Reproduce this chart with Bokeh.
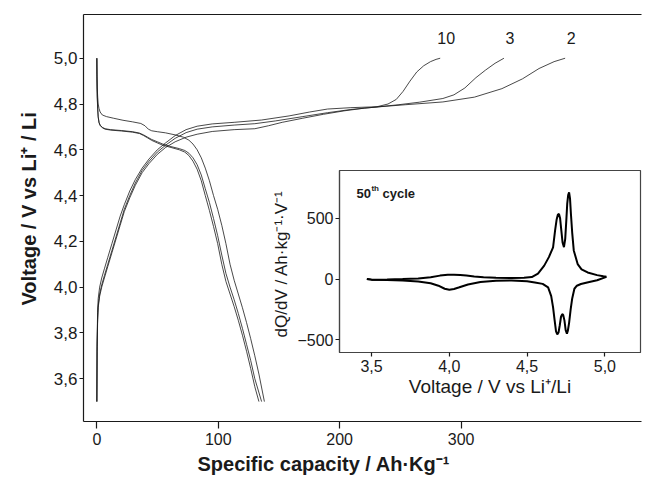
from bokeh.plotting import figure
from bokeh.models import Range1d, FixedTicker, Label, LinearAxis, CustomJSTickFormatter, Title
from bokeh.layouts import column
from bokeh.embed import file_html
from bokeh.resources import INLINE

FONT = "Liberation Sans"
INK = "#1a1a1a"

# ---- galvanostatic profiles: specific capacity (Ah/kg) vs voltage (V) ----
ch2_cap = [0, 0.2, 0.6, 1.1, 2.3, 4.0, 6.2, 9.0, 12.4, 15.8, 19.2, 22.6, 27.1, 31.7, 37.3, 43.0, 49.8, 56.6, 64.5, 73.5,
           82.6, 95.0, 113.1, 130.1, 141.4, 152.7, 169.7, 186.6, 203.6, 220.5, 230.7, 254.5, 285.0, 311.0, 333.6, 350.6,
           364.2, 376.6, 385.7]
ch2_v = [3.50, 3.72, 3.84, 3.91, 3.96, 4.00, 4.04, 4.09, 4.15, 4.21, 4.27, 4.33, 4.39, 4.445, 4.50, 4.54, 4.58, 4.61, 4.635, 4.655,
         4.668, 4.68, 4.688, 4.692, 4.705, 4.72, 4.738, 4.755, 4.77, 4.782, 4.787, 4.797, 4.809, 4.83, 4.867, 4.91,
         4.955, 4.985, 5.0]

ch3_cap = [0, 0.2, 0.6, 1.1, 2.3, 4.0, 6.2, 9.0, 12.4, 15.8, 19.2, 22.6, 27.1, 31.7, 37.3, 43.0, 49.8, 56.6, 64.5, 73.5,
           82.6, 95.0, 113.1, 130.1, 147.0, 169.7, 190.0, 209.2, 230.7, 248.8, 265.8, 285.0, 294.1, 303.1, 312.2, 320.1,
           328.0, 335.3]
ch3_v = [3.50, 3.74, 3.86, 3.92, 3.97, 4.01, 4.05, 4.10, 4.16, 4.22, 4.28, 4.34, 4.40, 4.455, 4.51, 4.55, 4.59, 4.62, 4.65, 4.675,
         4.69, 4.70, 4.708, 4.714, 4.726, 4.745, 4.762, 4.776, 4.787, 4.797, 4.808, 4.824, 4.84, 4.87, 4.915, 4.948,
         4.978, 5.0]

ch10_cap = [0, 0.2, 0.6, 1.1, 2.3, 4.0, 6.2, 9.0, 12.4, 15.8, 19.2, 22.6, 27.1, 31.7, 37.3, 43.0, 49.8, 56.6, 64.5, 73.5,
            82.6, 95.0, 113.1, 135.7, 158.3, 175.3, 190.0, 209.2, 230.7, 239.8, 246.6, 252.2, 257.9, 263.5, 269.2, 274.8,
            279.4, 282.8]
ch10_v = [3.50, 3.76, 3.89, 3.95, 4.00, 4.04, 4.08, 4.13, 4.19, 4.25, 4.31, 4.36, 4.42, 4.47, 4.52, 4.56, 4.60, 4.63, 4.662, 4.688,
          4.703, 4.713, 4.72, 4.73, 4.748, 4.765, 4.778, 4.784, 4.788, 4.80, 4.82, 4.855, 4.90, 4.94, 4.967, 4.985,
          4.995, 5.0]

dis2_cap = [0, 0.1, 0.3, 0.7, 1.1, 1.8, 2.7, 4.5, 7.9, 13.6, 21.5, 29.4, 36.2, 39.6, 42.4, 45.2, 49.8, 56.6, 64.5, 71.3,
            75.8, 79.2, 82.6, 86.0, 89.3, 92.7, 96.1, 99.5, 102.9, 106.3, 109.7, 113.1, 116.5, 119.9, 123.3, 126.7,
            130.1, 133.5, 138.0]
dis2_v = [5.0, 4.93, 4.87, 4.83, 4.80, 4.78, 4.765, 4.752, 4.745, 4.738, 4.729, 4.722, 4.715, 4.705, 4.69, 4.683, 4.679, 4.674, 4.665, 4.655,
          4.642, 4.625, 4.60, 4.565, 4.52, 4.465, 4.40, 4.34, 4.27, 4.19, 4.10, 4.03, 3.97, 3.91, 3.845, 3.775,
          3.70, 3.62, 3.50]

dis3_cap = [0, 0.1, 0.3, 0.7, 1.1, 1.8, 2.7, 4.5, 6.8, 11.3, 20.4, 29.4, 35.1, 38.5, 41.8, 45.2, 49.8, 54.3, 61.1, 67.9,
            72.4, 75.8, 79.2, 82.6, 86.0, 89.3, 92.7, 96.1, 99.5, 102.9, 106.3, 109.7, 113.1, 116.5, 119.9, 123.3,
            126.7, 130.1, 135.7]
dis3_v = [5.0, 4.92, 4.84, 4.78, 4.745, 4.72, 4.708, 4.698, 4.692, 4.688, 4.684, 4.679, 4.673, 4.665, 4.655, 4.645, 4.635, 4.625, 4.614, 4.605,
          4.597, 4.585, 4.565, 4.535, 4.49, 4.43, 4.37, 4.30, 4.225, 4.14, 4.06, 4.0, 3.945, 3.885, 3.82, 3.75,
          3.68, 3.60, 3.50]

dis10_cap = [0, 0.1, 0.3, 0.7, 1.1, 1.8, 2.7, 4.5, 6.8, 11.3, 20.4, 29.4, 35.1, 38.5, 41.8, 45.2, 49.8, 54.3, 61.1, 67.9,
             72.4, 75.8, 79.2, 82.6, 86.0, 89.3, 92.7, 96.1, 99.5, 102.9, 106.3, 109.7, 113.1, 116.5, 119.9, 123.3,
             126.7, 130.1, 133.5]
dis10_v = [5.0, 4.91, 4.83, 4.775, 4.742, 4.718, 4.706, 4.696, 4.69, 4.686, 4.682, 4.677, 4.671, 4.662, 4.652, 4.641, 4.630, 4.620, 4.610, 4.600,
           4.590, 4.575, 4.55, 4.515, 4.465, 4.40, 4.335, 4.265, 4.19, 4.10, 4.025, 3.97, 3.915, 3.855, 3.79, 3.72,
           3.645, 3.565, 3.50]

cycle_names = ["10", "3", "2"]
main_x_ticks = [0, 100, 200, 300]
main_y_ticks = [3.6, 3.8, 4.0, 4.2, 4.4, 4.6, 4.8, 5.0]

# ---- differential capacity, 50th cycle ----
dqdv_ch_v = [3.47, 3.50, 3.60, 3.70, 3.80, 3.88, 3.94, 3.99, 4.03, 4.07,
             4.11, 4.16, 4.22, 4.30, 4.40, 4.48, 4.53, 4.57, 4.61, 4.64,
             4.667, 4.68, 4.69, 4.698, 4.705, 4.712, 4.72, 4.728, 4.737, 4.745,
             4.752, 4.758, 4.764, 4.77, 4.776, 4.782, 4.79, 4.80, 4.825, 4.85,
             4.889, 4.95, 4.99, 5.01]
dqdv_ch = [0, -5, -4, 0, 5, 15, 28, 35, 36, 33,
           28, 20, 14, 10, 8, 10, 16, 45, 110, 180,
           260, 400, 490, 530, 535, 500, 400, 300, 262, 330,
           480, 620, 690, 712, 660, 530, 380, 235, 123, 80,
           54, 32, 22, 18]
dqdv_dis_v = [5.01, 4.95, 4.90, 4.846, 4.82, 4.804, 4.79, 4.78, 4.77, 4.762,
              4.756, 4.748, 4.74, 4.732, 4.726, 4.718, 4.71, 4.702, 4.694, 4.686,
              4.677, 4.667, 4.655, 4.635, 4.60, 4.55, 4.50, 4.40, 4.30, 4.20,
              4.12, 4.06, 4.03, 4.00, 3.97, 3.93, 3.88, 3.80, 3.70, 3.60,
              3.50, 3.47]
dqdv_dis = [18, -10, -25, -41, -55, -80, -160, -250, -360, -425,
            -450, -420, -340, -295, -288, -310, -380, -440, -455, -430,
            -340, -233, -140, -69, -40, -28, -18, -12, -15, -25,
            -45, -70, -82, -88, -80, -55, -35, -20, -12, -8,
            -5, 0]
inset_x_ticks = [3.5, 4.0, 4.5, 5.0]
inset_y_ticks = [-500, 0, 500]

comma_fmt = CustomJSTickFormatter(code="return tick.toFixed(1).replace('.', ',');")


def style_axis(ax, size="16px"):
    ax.axis_line_color = INK
    ax.axis_line_width = 1.2
    ax.major_tick_line_color = INK
    ax.major_tick_line_width = 1.2
    ax.minor_tick_line_color = None
    ax.major_label_text_font = FONT
    ax.major_label_text_font_size = size
    ax.major_label_text_color = INK
    ax.axis_label_text_font = FONT
    ax.axis_label_text_color = INK


# ---------------- main plot ----------------
p = figure(width=647, height=483,
           x_range=Range1d(-11.0, 448.6), y_range=Range1d(3.413, 5.191),
           output_backend="svg", toolbar_location=None,
           min_border_left=83, min_border_right=0, min_border_top=14, min_border_bottom=62)
p.outline_line_color = None
p.grid.visible = False

for cap, v in [(ch2_cap, ch2_v), (ch3_cap, ch3_v), (ch10_cap, ch10_v),
               (dis2_cap, dis2_v), (dis3_cap, dis3_v), (dis10_cap, dis10_v)]:
    p.line(cap, v, line_color=INK, line_width=0.8)

xa = p.xaxis[0]
style_axis(xa)
xa.ticker = FixedTicker(ticks=main_x_ticks)
xa.major_tick_in = 0
xa.major_tick_out = 7
xa.major_label_standoff = 4

ya = p.yaxis[0]
style_axis(ya, "17px")
ya.ticker = FixedTicker(ticks=main_y_ticks)
ya.formatter = comma_fmt
ya.major_tick_in = 0
ya.major_tick_out = 4
ya.major_label_standoff = 2

# axis titles as side titles so they can be shifted along the axis
p.add_layout(Title(text="Specific capacity / Ah·Kg⁻¹", align="left", offset=114, standoff=6,
                   text_font=FONT, text_font_size="20px", text_font_style="bold",
                   text_color=INK), "below")
p.add_layout(Title(text="Voltage / V vs Li⁺ / Li", align="left", offset=116, standoff=22,
                   text_font=FONT, text_font_size="20px", text_font_style="bold",
                   text_color=INK), "left")

# top border line of the frame
top = LinearAxis(ticker=FixedTicker(ticks=[]), axis_line_color=INK, axis_line_width=1.2,
                 major_tick_line_color=None, minor_tick_line_color=None,
                 major_tick_out=0, major_tick_in=0, major_label_standoff=0,
                 major_label_text_font_size="0px")
p.add_layout(top, "above")

# cycle numbers next to the end of each charge curve
for name, cap, v in zip(cycle_names, [ch10_cap, ch3_cap, ch2_cap], [ch10_v, ch3_v, ch2_v]):
    p.add_layout(Label(x=cap[-1], y=v[-1], x_offset=6, y_offset=20, text=name,
                       text_font=FONT, text_font_size="16px", text_color=INK,
                       text_align="center", text_baseline="middle"))

# ---------------- inset: dQ/dV ----------------
ins = figure(width=390, height=244,
             x_range=Range1d(3.294, 5.229), y_range=Range1d(-604, 892),
             output_backend="svg", toolbar_location=None,
             min_border_left=80, min_border_right=6, min_border_top=10, min_border_bottom=52)
ins.margin = (-323, 0, 0, 256)
ins.background_fill_alpha = 0
ins.border_fill_alpha = 0
ins.outline_line_color = "#444444"
ins.outline_line_width = 1.2
ins.grid.visible = False

ins.line(dqdv_ch_v, dqdv_ch, line_color="black", line_width=2)
ins.line(dqdv_dis_v, dqdv_dis, line_color="black", line_width=2)

ixa = ins.xaxis[0]
style_axis(ixa)
ixa.axis_line_color = "#444444"
ixa.ticker = FixedTicker(ticks=inset_x_ticks)
ixa.formatter = comma_fmt
ixa.major_tick_in = 0
ixa.major_tick_out = 4
ixa.major_label_standoff = 3
ixa.axis_label = "Voltage / V vs Li⁺/Li"
ixa.axis_label_text_font_size = "19px"
ixa.axis_label_text_font_style = "normal"
ixa.axis_label_standoff = 1

iya = ins.yaxis[0]
style_axis(iya)
iya.axis_line_color = "#444444"
iya.ticker = FixedTicker(ticks=inset_y_ticks)
iya.major_tick_in = 0
iya.major_tick_out = 4
iya.major_label_standoff = 2
iya.axis_label = "dQ/dV  / Ah·kg⁻¹·V⁻¹"
iya.axis_label_text_font_size = "17px"
iya.axis_label_text_font_style = "normal"
iya.axis_label_standoff = 3

# "50th cycle" caption
cap_x, cap_y = 3.403, 701
ins.add_layout(Label(x=cap_x, y=cap_y, text="50", text_font=FONT, text_font_size="13px",
                     text_font_style="bold", text_color=INK, text_baseline="middle"))
ins.add_layout(Label(x=cap_x, y=cap_y, x_offset=15, y_offset=5, text="th", text_font=FONT,
                     text_font_size="8px", text_font_style="bold", text_color=INK,
                     text_baseline="middle"))
ins.add_layout(Label(x=cap_x, y=cap_y, x_offset=26, text="cycle", text_font=FONT,
                     text_font_size="13px", text_font_style="bold", text_color=INK,
                     text_baseline="middle"))

layout = column(p, ins)
open("out.html", "w").write(file_html(layout, INLINE))
